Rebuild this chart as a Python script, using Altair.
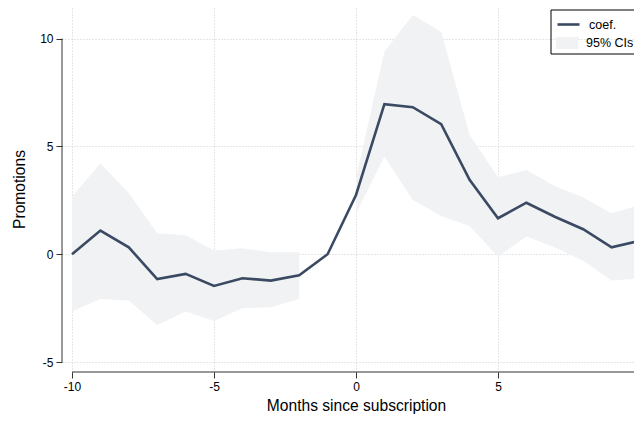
import altair as alt
import pandas as pd

# ---- data ----
months = list(range(-10, 11))
coef = [0.00, 1.10, 0.32, -1.15, -0.91, -1.47, -1.11, -1.22, -0.97, 0.00,
        2.75, 6.96, 6.82, 6.03, 3.45, 1.67, 2.39, 1.74, 1.16, 0.32, 0.63]
ci_hi = [2.67, 4.22, 2.83, 0.97, 0.88, 0.17, 0.28, 0.09, 0.09, None,
         3.55, 9.40, 11.10, 10.32, 5.53, 3.57, 3.91, 3.17, 2.63, 1.90, 2.29]
ci_lo = [-2.66, -2.07, -2.15, -3.28, -2.66, -3.09, -2.50, -2.46, -2.07, None,
         1.90, 4.53, 2.52, 1.78, 1.31, -0.11, 0.82, 0.32, -0.30, -1.22, -1.11]
legend_labels = ["coef.", "95% CIs"]
x_ticks = [-10, -5, 0, 5, 10]
y_ticks = [-5, 0, 5, 10]
x_title = "Months since subscription"
y_title = "Promotions"

LINE = "#3b4a63"
BAND = "#f1f2f4"
GRID = "#cccccc"
AXIS = "#333333"
FONT = "Liberation Sans"

df = pd.DataFrame({"month": months, "coef": coef, "lo": ci_lo, "hi": ci_hi})
df["seg"] = ["pre" if m < -1 else "post" for m in months]
df["line_lbl"] = legend_labels[0]
df["ci_lbl"] = legend_labels[1]
band_df = df.dropna(subset=["lo", "hi"])

W, H = 572, 364
xscale = alt.Scale(domain=[-10.352, 9.789], nice=False, zero=False)
yscale = alt.Scale(domain=[-5.46, 11.42], nice=False, zero=False)

label_expr = "datum.value < 0 ? '-' + abs(datum.value) : '' + datum.value"

x_axis = alt.Axis(values=x_ticks, title=x_title, domain=False, grid=True,
                  gridColor=GRID, gridDash=[1, 2], gridWidth=1,
                  tickSize=6, tickColor=AXIS, labelPadding=3,
                  labelFont=FONT, labelFontSize=12, labelColor="black",
                  labelExpr=label_expr, labelFlush=False, labelOverlap=False,
                  titleFont=FONT, titleFontSize=15.6, titleFontWeight="normal",
                  titleColor="black", titleX=294, titleY=38,
                  titleBaseline="alphabetic")
y_axis = alt.Axis(values=y_ticks, title=y_title, domain=False, grid=True,
                  gridColor=GRID, gridDash=[1, 2], gridWidth=1,
                  tickSize=6, tickColor=AXIS, labelPadding=3,
                  labelFont=FONT, labelFontSize=12, labelColor="black",
                  labelExpr=label_expr, labelFlush=False,
                  titleFont=FONT, titleFontSize=15.6, titleFontWeight="normal",
                  titleColor="black", titleX=-38, titleY=181,
                  titleBaseline="alphabetic")

band = alt.Chart(band_df).mark_area(opacity=1, strokeWidth=0).encode(
    x=alt.X("month:Q", scale=xscale, axis=x_axis),
    y=alt.Y("lo:Q", scale=yscale, axis=y_axis),
    y2="hi:Q",
    detail="seg:N",
    fill=alt.Fill("ci_lbl:N",
                  scale=alt.Scale(domain=[legend_labels[1]], range=[BAND]),
                  legend=alt.Legend(title=None, orient="none", legendX=494, legendY=24,
                                    symbolType="M-1,-0.55H1V0.55H-1Z", symbolSize=484,
                                    symbolStrokeWidth=0, symbolOpacity=1,
                                    labelOffset=8, labelFont=FONT, labelFontSize=12.5,
                                    labelColor="black", padding=0)),
)

line = alt.Chart(df).mark_line(strokeWidth=2.6).encode(
    x=alt.X("month:Q", scale=xscale, axis=x_axis),
    y=alt.Y("coef:Q", scale=yscale, axis=y_axis),
    stroke=alt.Stroke("line_lbl:N",
                      scale=alt.Scale(domain=[legend_labels[0]], range=[LINE]),
                      legend=alt.Legend(title=None, orient="none", legendX=494, legendY=4,
                                        symbolType="stroke", symbolSize=484,
                                        symbolStrokeWidth=2.6,
                                        labelOffset=8, labelFont=FONT, labelFontSize=12.5,
                                        labelColor="black", padding=0)),
)

one = alt.Data(values=[{"k": 1}])
y_axis_line = alt.Chart(one).mark_rule(color=AXIS, strokeWidth=1).encode(
    x=alt.value(0), y=alt.datum(-5), y2=alt.datum(10))
x_axis_line = alt.Chart(one).mark_rule(color=AXIS, strokeWidth=1).encode(
    y=alt.value(H), x=alt.datum(-10), x2=alt.value(W))
legend_box = alt.Chart(one).mark_rect(filled=False, stroke="black", strokeWidth=1).encode(
    x=alt.value(489), x2=alt.value(579), y=alt.value(2), y2=alt.value(46))

chart = alt.layer(band, line, y_axis_line, x_axis_line, legend_box).resolve_legend(
    stroke="independent", fill="independent"
).properties(
    width=W, height=H,
    autosize=alt.AutoSizeParams(type="none"),
    padding={"left": 54, "top": 0, "right": 0, "bottom": 42},
    background="white",
).configure_view(stroke=None)

chart.save("out.html", embed_options={"renderer": "svg", "actions": False})
